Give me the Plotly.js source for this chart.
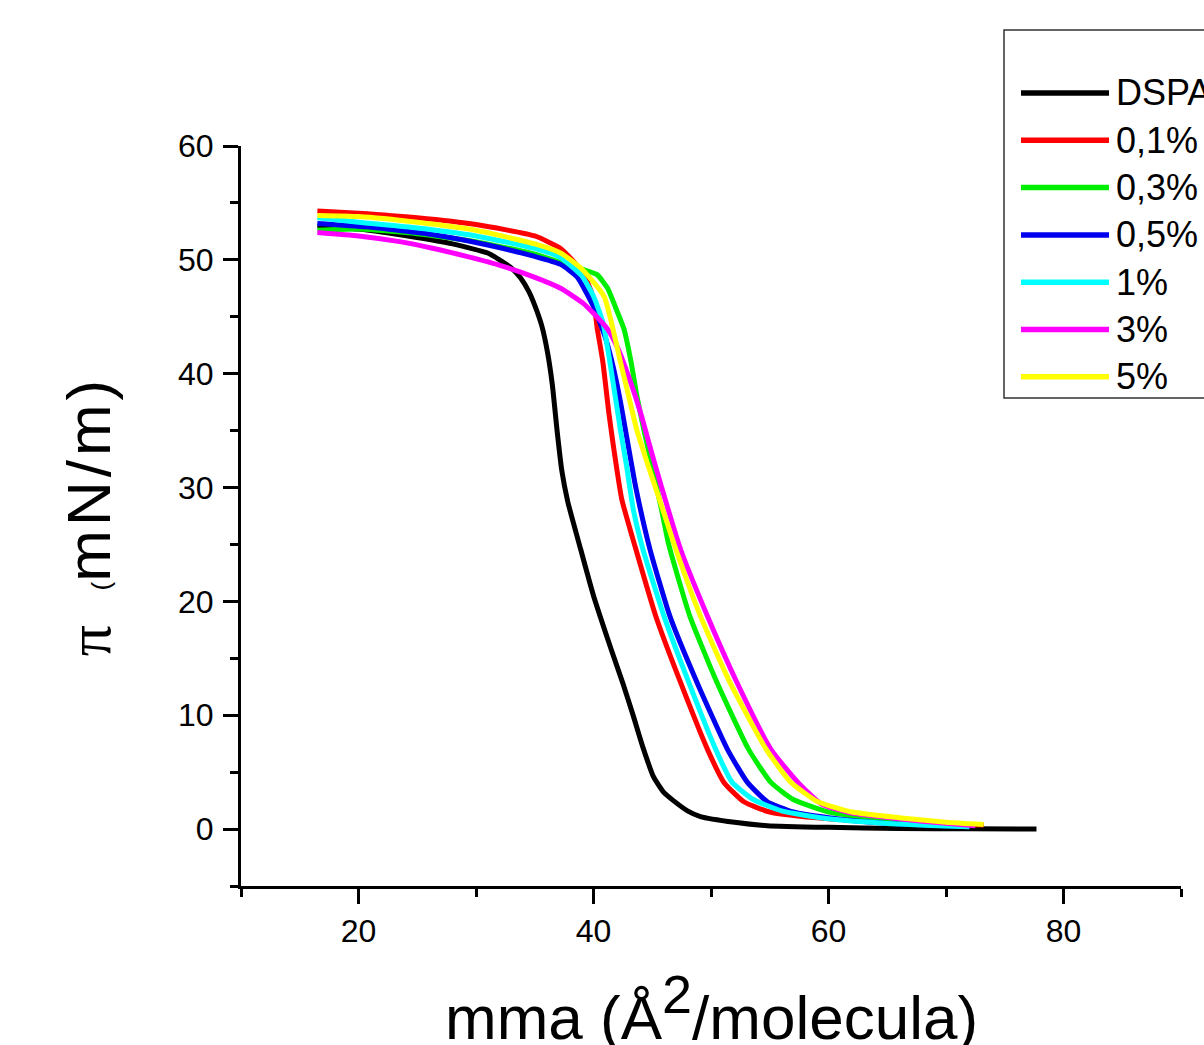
<!DOCTYPE html>
<html>
<head>
<meta charset="utf-8">
<script src="https://cdn.plot.ly/plotly-3.0.1.min.js"></script>
<style>html,body{margin:0;padding:0;background:#fff;}#chart{width:1204px;height:1045px;}</style>
</head>
<body>
<div id="chart"></div>
<script>
// ---- data ----
const seriesNames = ["DSPA", "0,1%", "0,3%", "0,5%", "1%", "3%", "5%"];
const seriesColors = ["#000000", "#ff0000", "#00ee00", "#0000ee", "#00ffff", "#ff00ff", "#ffff00"];

const dspaX = [16.5, 20, 24.7, 28, 31, 32, 33, 33.8, 34.5, 35, 35.6, 36.1, 36.5, 36.9, 37.3, 37.8, 38.9, 40, 41.5, 42.5, 43.4, 44.2, 45.1, 46, 46.8, 48, 49.1, 52, 54.8, 60, 66, 72, 77.7];
const dspaY = [53.0, 52.7, 52.0, 51.4, 50.6, 50.0, 49.3, 48.4, 47.2, 46.0, 44.2, 41.8, 39.0, 35.0, 31.5, 28.8, 24.6, 20.5, 15.8, 12.8, 9.9, 7.2, 4.6, 3.2, 2.5, 1.6, 1.1, 0.6, 0.3, 0.15, 0.05, 0.02, 0.0];

const p01X = [16.5, 20, 25, 30, 35, 37.2, 38.6, 39.5, 40.0, 40.3, 40.8, 41.3, 41.7, 42.4, 43.6, 45.3, 47.4, 49.7, 51.1, 52.8, 55, 60, 65, 70, 73.2];
const p01Y = [54.3, 54.1, 53.7, 53.1, 52.1, 51.0, 49.5, 48.0, 46.5, 44.1, 41.0, 36.6, 33.6, 29.0, 24.6, 18.7, 12.9, 7.0, 4.1, 2.4, 1.5, 0.9, 0.6, 0.45, 0.35];

const p03X = [16.5, 20, 25, 30, 35, 38, 40.3, 41.2, 42, 42.6, 43.2, 43.7, 44.3, 45, 45.8, 46.4, 48.2, 50.5, 53.2, 55.1, 57, 60, 65, 72];
const p03Y = [52.6, 52.7, 52.3, 51.6, 50.5, 49.5, 48.7, 47.5, 45.5, 43.9, 41.0, 38.0, 35.0, 31.8, 28.0, 25.0, 18.7, 12.9, 7.0, 4.1, 2.6, 1.5, 0.8, 0.3];

const p05X = [16.5, 20.7, 26.4, 31, 35, 37.2, 38.6, 40, 41, 41.7, 42.3, 42.9, 43.6, 44.8, 46.5, 48.8, 51.4, 53.1, 54.8, 57, 60, 65, 72];
const p05Y = [53.2, 52.9, 52.2, 51.3, 50.3, 49.6, 48.5, 45.9, 43.2, 40.5, 37.5, 34.0, 30.0, 24.6, 18.7, 12.9, 7.0, 4.1, 2.4, 1.5, 1.0, 0.5, 0.2];

const p1X = [16.5, 20, 25, 30, 35, 37.2, 39, 40, 40.8, 41.4, 42.3, 42.8, 43.4, 44.2, 46, 48.1, 50.4, 51.8, 53.6, 56, 60, 65, 72];
const p1Y = [53.7, 53.3, 52.8, 52.1, 51.0, 50.2, 48.6, 46.8, 44.5, 41.0, 35.0, 32.0, 28.0, 24.6, 18.7, 12.9, 7.0, 4.1, 2.6, 1.6, 0.9, 0.5, 0.2];

const p3X = [16.5, 20, 23.5, 26.4, 29.2, 32.1, 34.9, 37.2, 39.1, 40, 41.2, 42, 42.9, 44, 44.8, 45.8, 47.4, 49.7, 52.2, 55.1, 57.4, 59.4, 62, 66, 70, 72.5];
const p3Y = [52.4, 52.1, 51.6, 51.0, 50.3, 49.5, 48.5, 47.5, 46.2, 45.3, 43.9, 42.4, 40.0, 36.6, 33.6, 30.0, 24.6, 18.7, 12.9, 7.0, 4.1, 2.2, 1.4, 0.9, 0.5, 0.3];

const p5X = [16.5, 20, 25, 30, 35, 37.2, 39, 40.9, 42.3, 43.0, 43.7, 44.5, 45.5, 46.3, 47, 49.1, 51.6, 54.7, 56.8, 59.1, 62, 66, 70, 73.2];
const p5Y = [53.9, 53.8, 53.3, 52.6, 51.4, 50.6, 49.2, 46.8, 41.0, 38.0, 35.0, 32.4, 29.3, 26.8, 24.6, 18.7, 12.9, 7.0, 4.1, 2.4, 1.5, 1.0, 0.6, 0.4];

const xTickVals = [20, 40, 60, 80];
const xMinorVals = [10, 30, 50, 70, 90];
const yTickVals = [0, 10, 20, 30, 40, 50, 60];
const yMinorVals = [-5, 5, 15, 25, 35, 45, 55];
const xTitle = "mma (Å<sup><span style='font-size:54px'>2</span></sup>/molecula)";
const yTitle = "<span style='font-family:Liberation Serif'>π</span>&nbsp;&nbsp;<span style='font-size:26px'>(</span><span style='letter-spacing:4px'>mN/m)</span>";

const allX = [dspaX, p01X, p03X, p05X, p1X, p3X, p5X];
const allY = [dspaY, p01Y, p03Y, p05Y, p1Y, p3Y, p5Y];

// ---- layout constants ----
const W = 1204, H = 1045;
const mL = 241, mR = 23, mT = 146, mB = 159;
const plotW = W - mL - mR, plotH = H - mT - mB;
const px2paperX = px => (px - mL) / plotW;
const py2paperY = py => (H - mB - py) / plotH;
const FONT = "Liberation Sans, Arial, sans-serif";

const traces = seriesNames.map((n, i) => ({
  type: "scatter", mode: "lines", name: n,
  x: allX[i], y: allY[i],
  line: {color: seriesColors[i], width: 5, shape: "spline", smoothing: 0.5},
  showlegend: false, hoverinfo: "skip"
}));

// manual legend (box, sample lines, labels)
const shapes = [{
  type: "rect", xref: "paper", yref: "paper",
  x0: px2paperX(1004), x1: px2paperX(1230), y0: py2paperY(398), y1: py2paperY(30),
  line: {color: "#333333", width: 1.5}, fillcolor: "rgba(255,255,255,0)"
}];
const annotations = [];
seriesNames.forEach((n, i) => {
  const yy = py2paperY(93 + 47.3 * i);
  shapes.push({type: "line", xref: "paper", yref: "paper",
    x0: px2paperX(1021), x1: px2paperX(1109), y0: yy, y1: yy,
    line: {color: seriesColors[i], width: 5.5}});
  annotations.push({xref: "paper", yref: "paper", x: px2paperX(1114), y: yy,
    xanchor: "left", yanchor: "middle", showarrow: false, text: n,
    font: {family: FONT, size: 36, color: "#000"}});
});
// x-axis title placed as an annotation to match the reference position
annotations.push({xref: "paper", yref: "paper", x: 0.5, y: py2paperY(1008),
  xanchor: "center", yanchor: "middle", showarrow: false, text: xTitle,
  font: {family: FONT, size: 62, color: "#000"}});

const axisCommon = {
  showgrid: false, zeroline: false, showline: true, linecolor: "#000", linewidth: 3,
  ticks: "outside", ticklen: 15, tickwidth: 3, tickcolor: "#000",
  tickfont: {family: FONT, size: 32, color: "#000"}, mirror: false
};

const layout = {
  width: W, height: H,
  margin: {l: mL, r: mR, t: mT, b: mB, autoexpand: false},
  paper_bgcolor: "#fff", plot_bgcolor: "#fff",
  showlegend: false,
  xaxis: Object.assign({}, axisCommon, {
    range: [10, 90], tickvals: xTickVals, ticklabelstandoff: 0,
    minor: {tickvals: xMinorVals, ticks: "outside", ticklen: 8, tickwidth: 3, tickcolor: "#000", showgrid: false}
  }),
  yaxis: Object.assign({}, axisCommon, {
    range: [-5, 60], tickvals: yTickVals, ticklabelstandoff: 3,
    minor: {tickvals: yMinorVals, ticks: "outside", ticklen: 8, tickwidth: 3, tickcolor: "#000", showgrid: false},
    title: {text: yTitle, font: {family: FONT, size: 62, color: "#000"}, standoff: 48}
  }),
  shapes: shapes,
  annotations: annotations
};

Plotly.newPlot("chart", traces, layout, {staticPlot: true});
</script>
</body>
</html>
